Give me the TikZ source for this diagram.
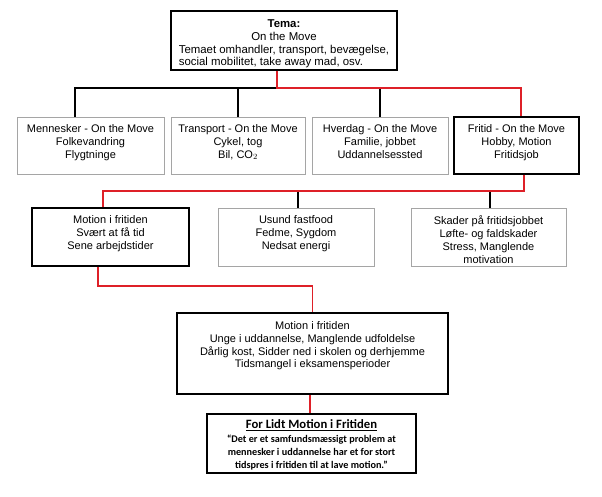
\documentclass[tikz,border=0pt]{standalone}
\usepackage{fontspec}
\setmainfont{Liberation Sans}
\newfontfamily\calibri{Carlito}
\usetikzlibrary{positioning}
\definecolor{lineRed}{RGB}{222,32,40}
\definecolor{boxGrey}{RGB}{165,165,165}

\begin{document}
\begin{tikzpicture}[x=1pt, y=-1pt,
		GreyBox/.style={rectangle, draw=boxGrey, line width=0.9pt, fill=white},
		BlackBox/.style={rectangle, draw=black, line width=1.3pt, fill=white},
		BoxText/.style={align=center, inner sep=0pt, font=\fontsize{11}{12.8}\selectfont},
		BlackLine/.style={line width=1.7pt, black},
		RedLine/.style={line width=1.7pt, lineRed}]

	\useasboundingbox (0,0) rectangle (602,496);

	% Theme
	\node[BlackBox, minimum width=226pt, minimum height=59pt] (Tema) at (284,40.5) {};
	\node[BoxText, font=\fontsize{11.4}{12.6}\selectfont, below=9.5pt of Tema.north] (TemaText) {\textbf{Tema:}\\On the Move\\
		\begin{tabular}[t]{@{}l@{}}Temaet omhandler, transport, bevægelse,\\social mobilitet, take away mad, osv.\end{tabular}};

	% Second row
	\node[GreyBox, minimum width=147pt, minimum height=57pt] (Mennesker) at (90.5,145.5) {};
	\node[GreyBox, minimum width=134pt, minimum height=57pt] (Transport) at (238,145.5) {};
	\node[GreyBox, minimum width=136pt, minimum height=57pt] (Hverdag) at (380,145.5) {};
	\node[BlackBox, minimum width=125pt, minimum height=57pt] (Fritid) at (516.5,145.5) {};

	\node[BoxText, below=8pt of Mennesker.north] {Mennesker - On the Move\\Folkevandring\\Flygtninge};
	\node[BoxText, below=8pt of Transport.north] {Transport - On the Move\\Cykel, tog\\Bil, CO$_2$};
	\node[BoxText, below=8pt of Hverdag.north] {Hverdag - On the Move\\Familie, jobbet\\Uddannelsessted};
	\node[BoxText, below=8pt of Fritid.north] {Fritid - On the Move\\Hobby, Motion\\Fritidsjob};

	% Third row
	\node[BlackBox, minimum width=157pt, minimum height=58pt] (MotionA) at (110.5,237) {};
	\node[GreyBox, minimum width=156pt, minimum height=58pt] (Usund) at (296,237) {};
	\node[GreyBox, minimum width=155pt, minimum height=58pt] (Skader) at (488.5,237) {};

	\node[BoxText, below=8pt of MotionA.north] {Motion i fritiden\\Svært at få tid\\Sene arbejdstider};
	\node[BoxText, below=8pt of Usund.north] {Usund fastfood\\Fedme, Sygdom\\Nedsat energi};
	\node[BoxText, below=8pt of Skader.north] {Skader på fritidsjobbet\\Løfte- og faldskader\\Stress, Manglende\\motivation};

	% Fourth row
	\node[BlackBox, minimum width=271pt, minimum height=81pt] (MotionB) at (312.5,353.5) {};
	\node[BoxText, below=9pt of MotionB.north] {Motion i fritiden\\Unge i uddannelse, Manglende udfoldelse\\
		Dårlig kost, Sidder ned i skolen og derhjemme\\Tidsmangel i eksamensperioder};

	% Problem statement
	\node[BlackBox, line width=1.8pt, minimum width=209pt, minimum height=59pt] (Lidt) at (311.5,443.5) {};
	\node[align=center, inner sep=0pt, font=\calibri\bfseries\fontsize{12.7}{15}\selectfont,
		below=6pt of Lidt.north] (LidtTitle) {\underline{For Lidt Motion i Fritiden}};
	\node[align=center, inner sep=0pt, font=\calibri\bfseries\fontsize{10.2}{13}\selectfont,
		below=4pt of LidtTitle] {“Det er et samfundsmæssigt problem at\\mennesker i uddannelse har et for stort\\
		tidspres i fritiden til at lave motion.”};

	% Lines
	\coordinate (TopBus) at (277,88);
	\coordinate (MidBus) at (524,191);
	\coordinate (LowBus) at (312.5,286);

	\draw[BlackLine] (TopBus) -| ([xshift=-15.5pt]Mennesker.north);
	\draw[BlackLine] (Transport.north) -- (Transport.north |- TopBus);
	\draw[BlackLine] (Hverdag.north) -- (Hverdag.north |- TopBus);
	\draw[RedLine] ([xshift=-7pt]Tema.south) -- (TopBus) -| ([xshift=4.5pt]Fritid.north);

	\draw[BlackLine] ([xshift=2pt]Usund.north) -- ([xshift=2pt]Usund.north |- MidBus);
	\draw[BlackLine] ([xshift=1.5pt]Skader.north) -- ([xshift=1.5pt]Skader.north |- MidBus);
	\draw[RedLine] ([xshift=7.5pt]Fritid.south) -- (MidBus) -| ([xshift=-7.5pt]MotionA.north);

	\draw[RedLine] ([xshift=-12.5pt]MotionA.south) |- (LowBus) -- (MotionB.north);
	\draw[RedLine] ([xshift=-1.5pt]Lidt.north) -- ([xshift=-1.5pt]Lidt.north |- MotionB.south);
\end{tikzpicture}
\end{document}
